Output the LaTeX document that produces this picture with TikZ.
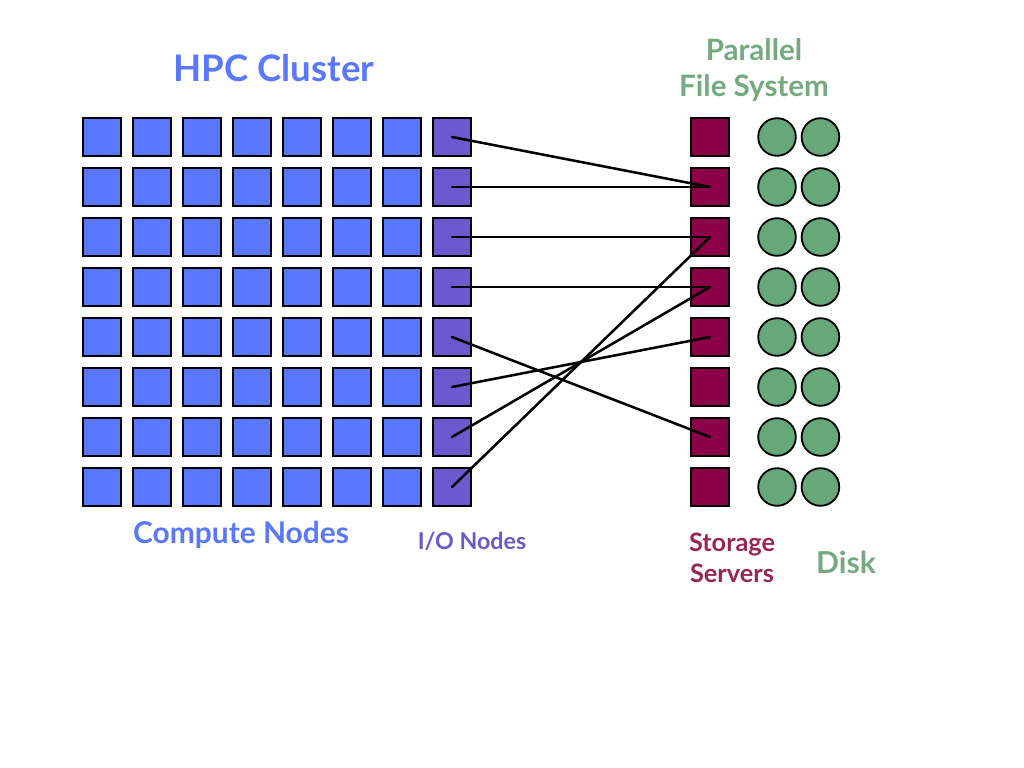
\documentclass[tikz,border=0pt]{standalone}
\usepackage{fontspec}
\setmainfont{Lato}
\usetikzlibrary{positioning}
\definecolor{compblue}{HTML}{5A78FF}
\definecolor{ioviolet}{HTML}{6A5ACD}
\definecolor{srvred}{HTML}{8C0048}
\definecolor{srvtext}{HTML}{982555}
\definecolor{diskgreen}{HTML}{66A87A}
\definecolor{disktext}{HTML}{75AA80}

\begin{document}
\begin{tikzpicture}[
  x=0.025cm, y=-0.025cm,
  font=\bfseries,
  comp/.style={draw, line width=1.3pt, fill=compblue, minimum size=0.94cm, inner sep=0pt},
  ionode/.style={draw, line width=1.3pt, fill=ioviolet, minimum size=0.94cm, inner sep=0pt},
  srv/.style={draw, line width=1.3pt, fill=srvred, minimum size=0.94cm, inner sep=0pt},
  disk/.style={draw, circle, line width=1.3pt, fill=diskgreen, minimum size=0.94cm, inner sep=0pt},
  link/.style={draw, line width=1.8pt, line cap=round}
]
\useasboundingbox (0,0) rectangle (1024,768);

% Nodes, row by row
\foreach \r in {1,...,8} {
  \foreach \c in {1,...,7}
    \node[comp] (c\r-\c) at ({52+50*\c}, {87+50*\r}) {};
  \node[ionode] (io\r) at (452, {87+50*\r}) {};
  \node[srv] (srv\r) at (710, {87+50*\r}) {};
  \node[disk] (dska\r) at (777, {87+50*\r}) {};
  \node[disk, right=0.1cm of dska\r] (dskb\r) {};
}

% Labels
\node[text=compblue, font=\bfseries\fontsize{26}{30}\selectfont] (hpc) at (274, 68) {HPC Cluster};
\node[text=compblue, font=\bfseries\fontsize{21.3}{25}\selectfont] (complbl) at (241, 535) {Compute Nodes};
\node[text=ioviolet, font=\bfseries\fontsize{16.5}{20}\selectfont] (iolbl) at (472, 541) {I/O Nodes};
\node[text=srvtext, align=center, font=\bfseries\fontsize{18}{22}\selectfont] (srvlbl) at (732, 558) {Storage\\Servers};
\node[text=disktext, font=\bfseries\fontsize{21.5}{25}\selectfont] (disklbl) at (846, 562) {Disk};
\node[text=disktext, align=center, font=\bfseries\fontsize{21}{25.5}\selectfont] (pfs) at (754, 70) {Parallel\\File System};

% Connections
\draw[link] (io1.center) -- (srv2.center);
\draw[link] (io2.center) -- (srv2.center);
\draw[link] (io3.center) -- (srv3.center);
\draw[link] (io4.center) -- (srv4.center);
\draw[link] (io5.center) -- (srv7.center);
\draw[link] (io6.center) -- (srv5.center);
\draw[link] (io7.center) -- (srv4.center);
\draw[link] (io8.center) -- (srv3.center);
\end{tikzpicture}
\end{document}
